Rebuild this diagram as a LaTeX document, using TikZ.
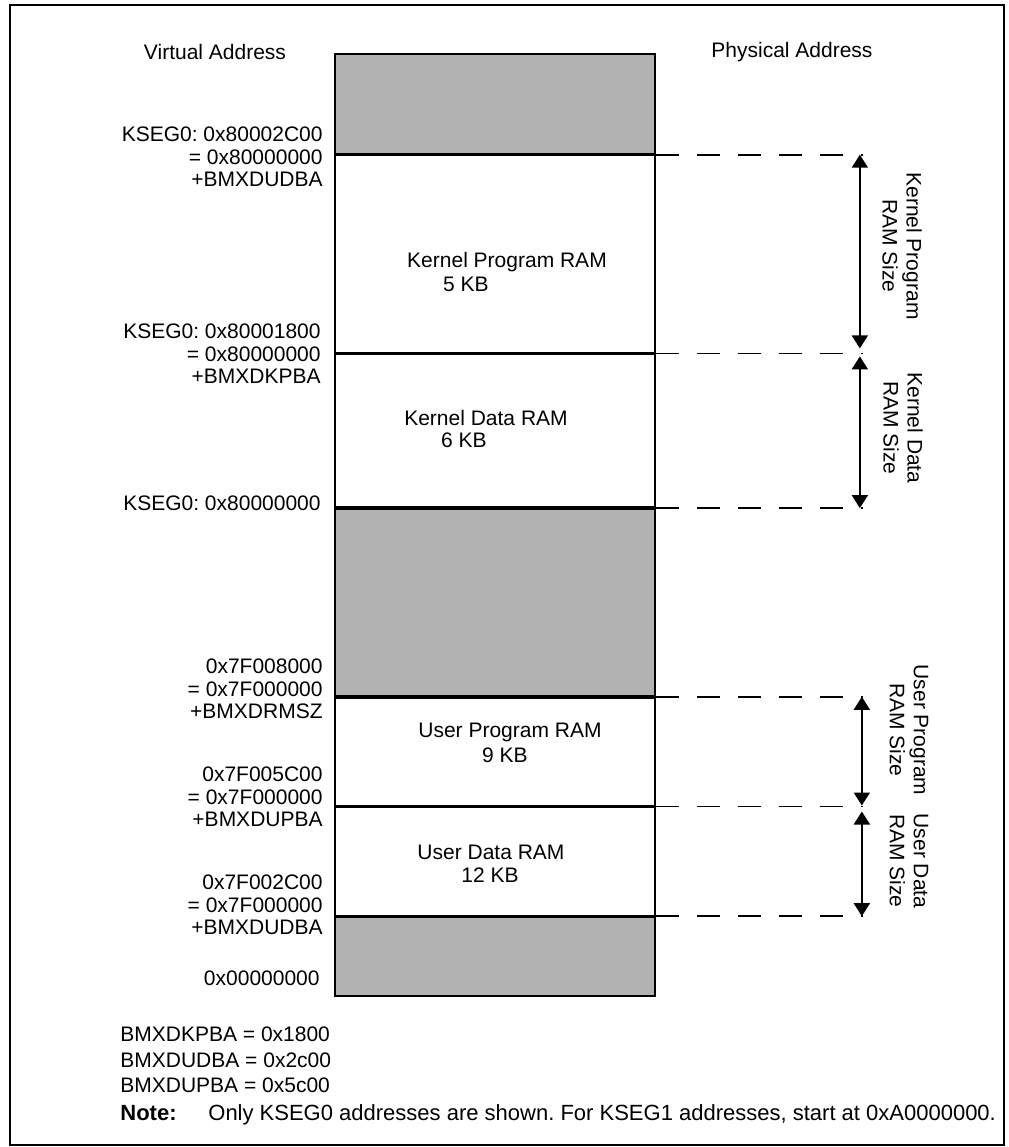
\documentclass[tikz,border=0pt]{standalone}
\usepackage{fontspec}
\setmainfont{Liberation Sans}
\frenchspacing
\usetikzlibrary{arrows.meta}

\definecolor{memgray}{RGB}{178,178,178}

\tikzset{
    memblock/.style={draw, line width=0.85pt, minimum width=160pt, inner sep=0pt, anchor=north},
    addr/.style={anchor=east, align=right, inner sep=0pt, font=\fontsize{10.5}{11.25}\selectfont},
    ramtext/.style={inner sep=0pt, font=\fontsize{10.5}{12}\selectfont},
    sizetext/.style={rotate=-90, align=center, inner sep=0pt, font=\fontsize{10.5}{12}\selectfont},
    guide/.style={line width=0.85pt, dash pattern=on 11.5pt off 9pt},
    sizearrow/.style={line width=0.9pt, {Triangle[width=8pt,length=6.5pt]}-{Triangle[width=8pt,length=6.5pt]}}
}

\begin{document}
\begin{tikzpicture}[x=0.5pt, y=-0.5pt]
    \useasboundingbox (0,0) rectangle (1008,1147);

    % Frame
    \draw[line width=1.2pt] (10,5) rectangle (1004,1145);

    % Headings
    \node[ramtext] (virt) at (215,52) {Virtual Address};
    \node[ramtext] (phys) at (792,52) {Physical Address};

    % Memory column, top to bottom
    \node[memblock, fill=memgray, minimum height=50pt] (top_gap) at (495,53){};
    \node[memblock, minimum height=98.5pt] (kprog) at (top_gap.south){};
    \node[memblock, minimum height=76.5pt] (kdata) at (kprog.south){};
    \node[memblock, fill=memgray, minimum height=93.5pt] (mid_gap) at (kdata.south){};
    \node[memblock, minimum height=54pt] (uprog) at (mid_gap.south){};
    \node[memblock, minimum height=54pt] (udata) at (uprog.south){};
    \node[memblock, fill=memgray, minimum height=39.5pt] (low_gap) at (udata.south){};

    % Block contents
    \node[ramtext] (kprog_name) at (507,262) {Kernel Program RAM};
    \node[ramtext] (kprog_size) at (466,284) {5 KB};
    \node[ramtext] (kdata_name) at (486,418) {Kernel Data RAM};
    \node[ramtext] (kdata_size) at (464,440) {6 KB};
    \node[ramtext] (uprog_name) at (510,732) {User Program RAM};
    \node[ramtext] (uprog_size) at (505,755) {9 KB};
    \node[ramtext] (udata_name) at (491,852) {User Data RAM};
    \node[ramtext] (udata_size) at (490,875) {12 KB};

    % Virtual addresses
    \node[addr] (kseg_top) at (323,157) {KSEG0: 0x80002C00\\= 0x80000000\\+BMXDUDBA};
    \node[addr] (kseg_mid) at (321,354) {KSEG0: 0x80001800\\= 0x80000000\\+BMXDKPBA};
    \node[addr] (kseg_low) at (321,503) {KSEG0: 0x80000000};
    \node[addr] (user_top) at (323,689) {0x7F008000\\= 0x7F000000\\+BMXDRMSZ};
    \node[addr] (user_mid) at (323,797) {0x7F005C00\\= 0x7F000000\\+BMXDUPBA};
    \node[addr] (user_low) at (323,905) {0x7F002C00\\= 0x7F000000\\+BMXDUDBA};
    \node[addr] (zero) at (320,978) {0x00000000};

    % Dashed guides
    \coordinate (g1) at ([xshift=103.5pt]kprog.north east);
    \coordinate (g2) at ([xshift=103.5pt]kdata.north east);
    \coordinate (g3) at ([xshift=103.5pt]kdata.south east);
    \coordinate (g4) at ([xshift=103.5pt]uprog.north east);
    \coordinate (g5) at ([xshift=103.5pt]udata.north east);
    \coordinate (g6) at ([xshift=103.5pt]udata.south east);
    \draw[guide] (kprog.north east) -- (g1);
    \draw[guide] (kdata.north east) -- (g2);
    \draw[guide] (kdata.south east) -- (g3);
    \draw[guide] (uprog.north east) -- (g4);
    \draw[guide] (udata.north east) -- (g5);
    \draw[guide] (udata.south east) -- (g6);

    % Size arrows
    \draw[sizearrow, shorten >=2.5pt] ([xshift=-1.5pt]g1) -- ([xshift=-1.5pt]g2);
    \draw[sizearrow, shorten <=1.5pt] ([xshift=-1.5pt]g2) -- ([xshift=-1.5pt]g3);
    \draw[sizearrow, shorten >=0.5pt] ([xshift=-0.5pt]g4) -- ([xshift=-0.5pt]g5);
    \draw[sizearrow, shorten <=2.5pt] ([xshift=-0.5pt]g5) -- ([xshift=-0.5pt]g6);

    \node[sizetext] (kprog_len) at (902,246) {Kernel Program\\RAM Size};
    \node[sizetext] (kdata_len) at (903,428) {Kernel Data\\RAM Size};
    \node[sizetext] (uprog_len) at (909,730) {User Program\\RAM Size};
    \node[sizetext] (udata_len) at (909,861) {User Data\\RAM Size};

    % Register values and note
    \node[anchor=west, align=left, inner sep=0pt, font=\fontsize{10.5}{12.75}\selectfont] (regs) at (120,1060)
        {BMXDKPBA = 0x1800\\BMXDUDBA = 0x2c00\\BMXDUPBA = 0x5c00};
    \node[anchor=base west, inner sep=0pt, font=\fontsize{11}{13}\selectfont\bfseries] (note_head) at (120,1120) {Note:};
    \node[anchor=base west, inner sep=0pt, font=\fontsize{11}{13}\selectfont] (note_text) at (208,1120)
        {Only KSEG0 addresses are shown. For KSEG1 addresses, start at 0xA0000000.};

\end{tikzpicture}
\end{document}
